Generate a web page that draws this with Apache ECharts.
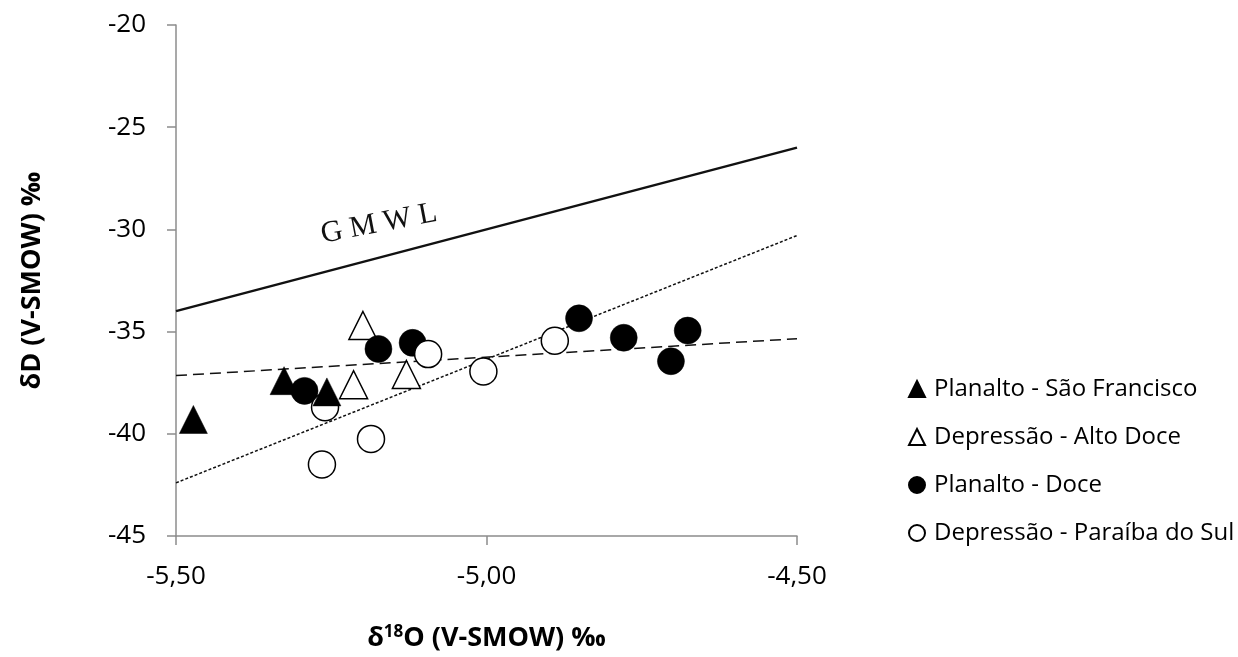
<!DOCTYPE html>
<html>
<head>
<meta charset="utf-8">
<script src="https://cdn.jsdelivr.net/npm/echarts@6/dist/echarts.min.js"></script>
<style>
  html, body { margin: 0; padding: 0; background: #fff; }
  #chart { width: 1238px; height: 657px; }
</style>
</head>
<body>
<div id="chart"></div>
<script>
// points: [δ18O, δD]
const planaltoSaoFrancisco = [[-5.472, -39.3], [-5.326, -37.4], [-5.257, -37.95]];
const depressaoAltoDoce = [[-5.199, -34.7], [-5.214, -37.6], [-5.129, -37.1]];
const planaltoDoce = [[-5.293, -37.9], [-5.174, -35.85], [-5.119, -35.55], [-4.851, -34.35], [-4.779, -35.3], [-4.703, -36.45], [-4.676, -34.95]];
const depressaoParaiba = [[-5.26, -38.7], [-5.094, -36.1], [-5.265, -41.5], [-5.186, -40.25], [-5.005, -36.95], [-4.89, -35.45]];

// reference lines (end points at the axis limits)
const gmwlLine = [[-5.5, -34], [-4.5, -26]];
const dashedFit = [[-5.5, -37.15], [-4.5, -35.35]];
const dottedFit = [[-5.5, -42.4], [-4.5, -30.3]];

const xTicks = { min: -5.5, max: -4.5, step: 0.5 };
const yTicks = { min: -45, max: -20, step: 5 };

const font = "'Open Sans', 'DejaVu Sans', sans-serif";
const axisGray = '#8c8c8c';

const chart = echarts.init(document.getElementById('chart'));

function lineSeries(data, type, width) {
    return {
        type: 'line',
        data: data,
        symbol: 'none',
        silent: true,
        z: 1,
        lineStyle: { color: '#111', width: width, type: type }
    };
}

function markerSeries(name, data, symbol, filled) {
    return {
        name: name,
        type: 'scatter',
        data: data,
        symbol: symbol,
        symbolSize: symbol === 'triangle' ? 28 : 27,
        z: 3,
        itemStyle: {
            color: filled ? '#000' : '#fff',
            borderColor: '#000',
            borderWidth: filled ? 0.5 : 1.5,
            opacity: 1
        }
    };
}

const option = {
    animation: false,
    backgroundColor: '#fff',
    grid: { left: 176, right: 441, top: 25, bottom: 120 },
    xAxis: {
        type: 'value',
        min: xTicks.min,
        max: xTicks.max,
        interval: xTicks.step,
        name: '{d|δ}{sup|18}{d|O (V-SMOW) ‰}',
        nameLocation: 'middle',
        nameGap: 88,
        nameTextStyle: {
            rich: {
                d: { fontFamily: font, fontSize: 27, fontWeight: 'bold', color: '#000' },
                sup: { fontFamily: font, fontSize: 17, fontWeight: 'bold', color: '#000', verticalAlign: 'top', padding: [0, 0, 12, 0] }
            }
        },
        axisLine: { onZero: false, lineStyle: { color: axisGray, width: 1.5 } },
        axisTick: { length: 9, lineStyle: { color: axisGray, width: 1.5 } },
        splitLine: { show: false },
        axisLabel: {
            margin: 28,
            fontFamily: font,
            fontSize: 26,
            color: '#000',
            formatter: v => v.toFixed(2).replace('.', ',')
        }
    },
    yAxis: {
        type: 'value',
        min: yTicks.min,
        max: yTicks.max,
        interval: yTicks.step,
        name: 'δD (V-SMOW) ‰',
        nameLocation: 'middle',
        nameGap: 130,
        nameTextStyle: { fontFamily: font, fontSize: 27, fontWeight: 'bold', color: '#000' },
        axisLine: { onZero: false, lineStyle: { color: axisGray, width: 1.5 } },
        axisTick: { length: 9, lineStyle: { color: axisGray, width: 1.5 } },
        splitLine: { show: false },
        axisLabel: { margin: 30, fontFamily: font, fontSize: 26, color: '#000' }
    },
    legend: {
        orient: 'vertical',
        left: 903,
        top: 372,
        itemGap: 24,
        itemWidth: 16,
        itemHeight: 16,
        textStyle: { fontFamily: font, fontSize: 24, color: '#000', padding: [0, 0, 0, 4] },
        data: ['Planalto - São Francisco', 'Depressão - Alto Doce', 'Planalto - Doce', 'Depressão - Paraíba do Sul']
    },
    graphic: [{
        type: 'text',
        x: 379,
        y: 224,
        rotation: 0.19,
        style: {
            text: 'G M W L',
            font: "30px 'Liberation Serif', 'DejaVu Serif', serif",
            fill: '#111',
            align: 'center',
            verticalAlign: 'middle'
        }
    }],
    series: [
        lineSeries(gmwlLine, 'solid', 2.5),
        lineSeries(dashedFit, [11, 6], 1.5),
        lineSeries(dottedFit, [3, 2], 1.5),
        markerSeries('Depressão - Alto Doce', depressaoAltoDoce, 'triangle', false),
        markerSeries('Planalto - Doce', planaltoDoce, 'circle', true),
        markerSeries('Depressão - Paraíba do Sul', depressaoParaiba, 'circle', false),
        markerSeries('Planalto - São Francisco', planaltoSaoFrancisco, 'triangle', true)
    ]
};

chart.setOption(option);
</script>
</body>
</html>
